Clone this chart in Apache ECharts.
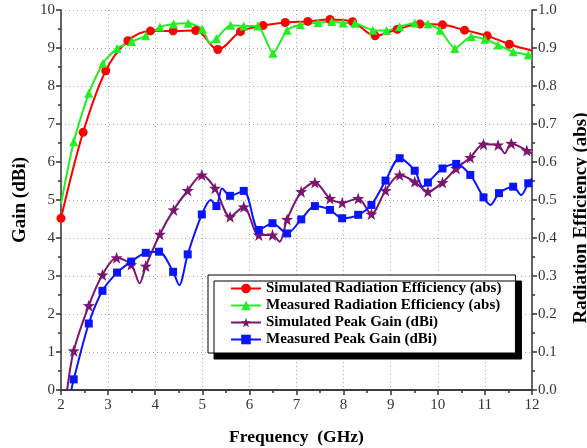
<!DOCTYPE html>
<html>
<head>
<meta charset="utf-8">
<script src="https://cdn.jsdelivr.net/npm/echarts@6/dist/echarts.min.js"></script>
<style>
  html, body { margin: 0; padding: 0; background: #fff; }
  #main { width: 587px; height: 448px; }
</style>
</head>
<body>
<div id="main"></div>
<script>
// Simulated radiation efficiency (abs)
var simEffX = [2.0, 2.47, 2.95, 3.42, 3.90, 4.38, 4.86, 5.33, 5.81, 6.29, 6.76, 7.24, 7.71, 8.19, 8.67, 9.14, 9.62, 10.10, 10.57, 11.05, 11.52, 12.0];
var simEffY = [0.452, 0.678, 0.840, 0.919, 0.945, 0.945, 0.946, 0.896, 0.943, 0.959, 0.967, 0.970, 0.975, 0.969, 0.932, 0.949, 0.963, 0.961, 0.947, 0.932, 0.910, 0.893];
var simEffM = [1, 1, 1, 1, 1, 1, 1, 1, 1, 1, 1, 1, 1, 1, 1, 1, 1, 1, 1, 1, 1, 0];

// Measured radiation efficiency (abs)
var meaEffX = [2.0, 2.27, 2.59, 2.89, 3.19, 3.50, 3.80, 4.10, 4.39, 4.70, 5.00, 5.16, 5.30, 5.60, 5.88, 6.18, 6.50, 6.80, 7.08, 7.46, 7.75, 7.99, 8.24, 8.62, 8.91, 9.19, 9.51, 9.79, 10.05, 10.36, 10.71, 11.00, 11.28, 11.60, 11.92, 12.0];
var meaEffY = [0.49, 0.653, 0.781, 0.860, 0.899, 0.917, 0.932, 0.955, 0.963, 0.965, 0.950, 0.912, 0.925, 0.960, 0.958, 0.958, 0.886, 0.947, 0.961, 0.967, 0.970, 0.966, 0.965, 0.947, 0.946, 0.956, 0.966, 0.964, 0.947, 0.899, 0.930, 0.923, 0.908, 0.890, 0.882, 0.880];
var meaEffM = [0, 1, 1, 1, 1, 1, 1, 1, 1, 1, 1, 0, 1, 1, 1, 1, 1, 1, 1, 1, 1, 1, 1, 1, 1, 1, 1, 1, 1, 1, 1, 1, 1, 1, 1, 0];

// Simulated peak gain (dBi)
var simGainX = [2.13, 2.27, 2.59, 2.88, 3.18, 3.49, 3.67, 3.80, 4.10, 4.39, 4.69, 4.99, 5.27, 5.59, 5.88, 6.20, 6.49, 6.64, 6.80, 7.10, 7.39, 7.71, 7.97, 8.31, 8.59, 8.89, 9.19, 9.51, 9.79, 10.10, 10.39, 10.69, 10.97, 11.28, 11.42, 11.56, 11.89, 12.0];
var simGainY = [0, 1.03, 2.22, 3.03, 3.48, 3.30, 2.81, 3.26, 4.10, 4.74, 5.25, 5.66, 5.31, 4.56, 4.82, 4.08, 4.08, 3.90, 4.49, 5.22, 5.46, 5.04, 4.93, 5.04, 4.63, 5.25, 5.66, 5.48, 5.22, 5.46, 5.83, 6.12, 6.47, 6.45, 6.23, 6.49, 6.30, 6.22];
var simGainM = [0, 1, 1, 1, 1, 1, 0, 1, 1, 1, 1, 1, 1, 1, 1, 1, 1, 0, 1, 1, 1, 1, 1, 1, 1, 1, 1, 1, 1, 1, 1, 1, 1, 1, 0, 1, 1, 0];

// Measured peak gain (dBi)
var meaGainX = [2.22, 2.27, 2.59, 2.88, 3.19, 3.49, 3.80, 4.08, 4.38, 4.51, 4.69, 4.99, 5.18, 5.30, 5.42, 5.59, 5.88, 6.20, 6.49, 6.80, 7.10, 7.39, 7.71, 7.97, 8.31, 8.59, 8.89, 9.19, 9.51, 9.68, 9.79, 10.10, 10.39, 10.69, 10.97, 11.12, 11.30, 11.60, 11.77, 11.92, 12.0];
var meaGainY = [0, 0.28, 1.75, 2.61, 3.09, 3.38, 3.61, 3.64, 3.11, 2.76, 3.57, 4.62, 5.0, 4.84, 5.30, 5.11, 5.24, 4.21, 4.39, 4.12, 4.49, 4.84, 4.74, 4.52, 4.61, 4.87, 5.51, 6.10, 5.77, 5.35, 5.46, 5.83, 5.95, 5.66, 5.07, 4.87, 5.18, 5.35, 5.13, 5.44, 5.57];
var meaGainM = [0, 1, 1, 1, 1, 1, 1, 1, 1, 0, 1, 1, 0, 1, 0, 1, 1, 1, 1, 1, 1, 1, 1, 1, 1, 1, 1, 1, 1, 0, 1, 1, 1, 1, 1, 0, 1, 1, 0, 1, 0];

var serifFont = 'Liberation Serif';
var starPath = 'path://M0,-10L2.35,-3.24L9.51,-3.09L3.8,1.24L5.88,8.09L0,4L-5.88,8.09L-3.8,1.24L-9.51,-3.09L-2.35,-3.24Z';

function pts(xs, ys, ms, sym) {
    return xs.map(function(x, i) {
        return { value: [x, ys[i]], symbol: ms[i] ? sym : 'none' };
    });
}

function lineSeries(name, data, color, sym, size, axis, smooth) {
    return {
        name: name,
        type: 'line',
        yAxisIndex: axis,
        data: data,
        smooth: smooth,
        symbol: sym,
        symbolSize: size,
        showAllSymbol: true,
        lineStyle: { color: color, width: 2 },
        itemStyle: { color: color, borderWidth: 0 },
        z: 3
    };
}

var myChart = echarts.init(document.getElementById('main'), null, { renderer: 'canvas' });

var axisLabelStyle = { fontFamily: serifFont, fontSize: 15, color: '#333' };
var tickLine = { color: '#333', width: 1.5 };

var option = {
    animation: false,
    backgroundColor: '#fff',
    grid: { left: 61, right: 55, top: 10, bottom: 58, outerBoundsMode: 'none', containLabel: false },
    legend: {
        orient: 'vertical',
        left: 208,
        top: 275,
        itemWidth: 30,
        itemHeight: 12,
        itemGap: 2,
        padding: [6, 14, 6, 22],
        backgroundColor: '#fff',
        borderColor: '#000',
        borderWidth: 1,
        shadowColor: '#000',
        shadowBlur: 0,
        shadowOffsetX: 6,
        shadowOffsetY: 6,
        textStyle: { fontFamily: serifFont, fontSize: 15, fontWeight: 'bold', color: '#000' },
        data: [
            'Simulated Radiation Efficiency (abs)',
            'Measured Radiation Efficiency (abs)',
            'Simulated Peak Gain (dBi)',
            'Measured Peak Gain (dBi)'
        ]
    },
    xAxis: [{
        type: 'value',
        min: 2, max: 12, interval: 1,
        name: 'Frequency  (GHz)',
        nameLocation: 'middle',
        nameGap: 38,
        nameTextStyle: { fontFamily: serifFont, fontSize: 17.5, fontWeight: 'bold', color: '#000' },
        axisLine: { lineStyle: tickLine },
        axisTick: { inside: false, length: 5, lineStyle: tickLine },
        minorTick: { show: true, splitNumber: 2, length: 3, lineStyle: tickLine },
        axisLabel: axisLabelStyle,
        splitLine: { show: true, lineStyle: { color: '#aaa', type: [1, 3], width: 1 } }
    }, {
        type: 'value',
        position: 'top',
        min: 2, max: 12, interval: 1,
        axisLine: { lineStyle: tickLine },
        axisTick: { inside: true, length: 5, lineStyle: tickLine },
        minorTick: { show: true, splitNumber: 2, length: 3, lineStyle: tickLine },
        axisLabel: { show: false },
        splitLine: { show: false }
    }],
    yAxis: [{
        type: 'value',
        min: 0, max: 10, interval: 1,
        name: 'Gain (dBi)',
        nameLocation: 'middle',
        nameGap: 30,
        nameRotate: 90,
        nameTextStyle: { fontFamily: serifFont, fontSize: 19, fontWeight: 'bold', color: '#000' },
        axisLine: { show: true, lineStyle: tickLine },
        axisTick: { show: true, length: 5, lineStyle: tickLine },
        minorTick: { show: true, splitNumber: 2, length: 3, lineStyle: tickLine },
        axisLabel: { fontFamily: serifFont, fontSize: 15, color: '#333', margin: 6 },
        splitLine: { show: true, lineStyle: { color: '#aaa', type: [1, 3], width: 1 } }
    }, {
        type: 'value',
        position: 'right',
        min: 0, max: 1, interval: 0.1,
        name: 'Radiation Efficiency (abs)',
        nameLocation: 'middle',
        nameGap: 40,
        nameRotate: 90,
        nameTextStyle: { fontFamily: serifFont, fontSize: 19, fontWeight: 'bold', color: '#000', padding: [0, 36, 0, 0] },
        axisLine: { show: true, lineStyle: tickLine },
        axisTick: { show: true, length: 5, lineStyle: tickLine },
        minorTick: { show: true, splitNumber: 2, length: 3, lineStyle: tickLine },
        axisLabel: {
            fontFamily: serifFont, fontSize: 15, color: '#333', margin: 6,
            formatter: function(v) { return v.toFixed(1); }
        },
        splitLine: { show: false }
    }],
    series: [
        lineSeries('Simulated Radiation Efficiency (abs)', pts(simEffX, simEffY, simEffM, 'circle'), '#ff0000', 'circle', 9, 1, 0.35),
        lineSeries('Measured Radiation Efficiency (abs)', pts(meaEffX, meaEffY, meaEffM, 'triangle'), '#22ee22', 'triangle', 9, 1, 0.2),
        lineSeries('Simulated Peak Gain (dBi)', pts(simGainX, simGainY, simGainM, starPath), '#7b1570', starPath, 12, 0, 0.3),
        lineSeries('Measured Peak Gain (dBi)', pts(meaGainX, meaGainY, meaGainM, 'rect'), '#0a14ff', 'rect', 8, 0, 0.3)
    ]
};

myChart.setOption(option);
</script>
</body>
</html>
